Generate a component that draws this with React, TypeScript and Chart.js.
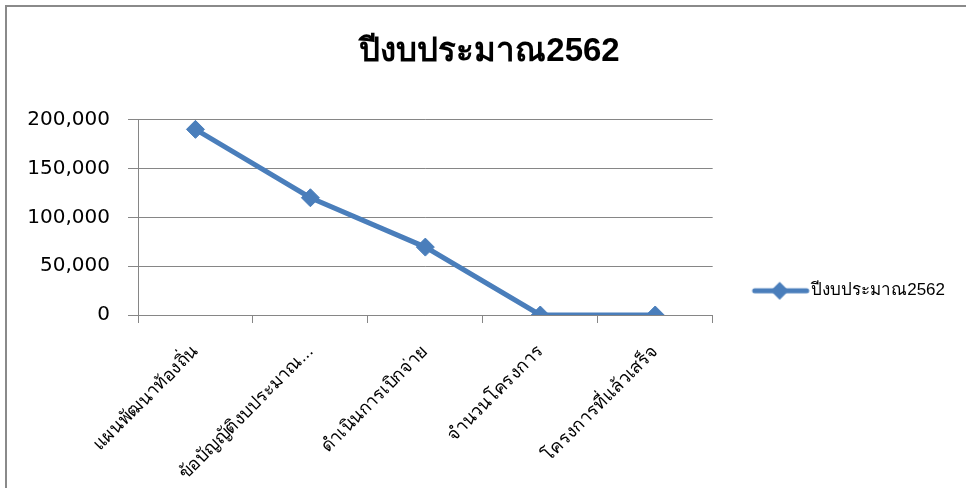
import React, { useEffect, useRef } from "react";
import { Chart, registerables } from "chart.js";

Chart.register(...registerables);

const categories = [
  "แผนพัฒนาท้องถิ่น",
  "ข้อบัญญัติงบประมาณ...",
  "ดำเนินการเบิกจ่าย",
  "จำนวนโครงการ",
  "โครงการที่แล้วเสร็จ",
];
const seriesName = "ปีงบประมาณ2562";
const seriesValues = [190000, 120000, 69500, 0, 0];
const chartTitle = "ปีงบประมาณ2562";
const yMin = 0;
const yMax = 200000;
const yStep = 50000;

const LINE_COLOR = "#4A7EBB";
const GRID_COLOR = "#868686";
const FONT = "'Liberation Sans', 'DejaVu Sans', sans-serif";

function makeLegendSymbol(): HTMLCanvasElement {
  const c = document.createElement("canvas");
  c.width = 110;
  c.height = 24;
  const ctx = c.getContext("2d")!;
  ctx.strokeStyle = LINE_COLOR;
  ctx.lineWidth = 5;
  ctx.lineCap = "round";
  ctx.beginPath();
  ctx.moveTo(52, 12);
  ctx.lineTo(104, 12);
  ctx.stroke();
  ctx.fillStyle = LINE_COLOR;
  ctx.beginPath();
  ctx.moveTo(77, 3);
  ctx.lineTo(86, 12);
  ctx.lineTo(77, 21);
  ctx.lineTo(68, 12);
  ctx.closePath();
  ctx.fill();
  return c;
}

const framePlugin = {
  id: "frame",
  beforeDraw(chart: any) {
    const ctx = chart.ctx;
    ctx.save();
    ctx.fillStyle = "#ffffff";
    ctx.fillRect(0, 0, chart.width, chart.height);
    ctx.fillStyle = "#8a8a8a";
    ctx.fillRect(5, 5, 2, chart.height - 5);
    ctx.fillRect(5, 5, chart.width - 5, 2);
    ctx.restore();
  },
};

// Centre the legend vertically over the plot plus the category label band
const legendPlacePlugin = {
  id: "legendPlace",
  afterLayout(chart: any) {
    const lg = chart.legend;
    if (!lg) return;
    const h = lg.bottom - lg.top;
    const mid = (chart.chartArea.top + 462) / 2;
    lg.top = mid - h / 2;
    lg.bottom = mid + h / 2;
  },
};

export default function App() {
  const ref = useRef<HTMLCanvasElement | null>(null);
  useEffect(() => {
    if (!ref.current) return;
    const symbol = makeLegendSymbol();
    const chart = new Chart(ref.current, {
      type: "line",
      data: {
        labels: categories,
        datasets: [
          {
            label: seriesName,
            data: seriesValues,
            borderColor: LINE_COLOR,
            backgroundColor: LINE_COLOR,
            borderWidth: 5,
            pointStyle: "rectRot",
            pointRadius: 9,
            pointHoverRadius: 9,
            pointBackgroundColor: LINE_COLOR,
            pointBorderColor: LINE_COLOR,
            pointBorderWidth: 1,
            tension: 0,
          },
        ],
      },
      options: {
        animation: false,
        responsive: false,
        maintainAspectRatio: false,
        layout: { padding: { left: 24, right: 11, top: 0, bottom: 0 } },
        plugins: {
          title: {
            display: true,
            text: chartTitle,
            color: "#000",
            font: { family: FONT, size: 33, weight: "bold", lineHeight: 1.2 },
            padding: { top: 32, bottom: 48 },
          },
          legend: {
            display: true,
            position: "right",
            maxWidth: 400,
            labels: {
              color: "#000",
              font: { family: FONT, size: 17 },
              padding: 0,
              usePointStyle: true,
              pointStyleWidth: 90,
              generateLabels: () => [
                {
                  text: seriesName,
                  pointStyle: symbol as any,
                  fillStyle: LINE_COLOR,
                  strokeStyle: LINE_COLOR,
                  lineWidth: 0,
                  hidden: false,
                  datasetIndex: 0,
                } as any,
              ],
            },
          },
          tooltip: { enabled: false },
        },
        scales: {
          x: {
            type: "category",
            offset: true,
            grid: {
              display: true,
              offset: true,
              drawOnChartArea: false,
              drawTicks: true,
              tickLength: 8,
              color: GRID_COLOR,
            },
            border: { display: true, color: GRID_COLOR, width: 1 },
            ticks: {
              color: "#000",
              font: { family: FONT, size: 18 },
              minRotation: 45,
              maxRotation: 45,
              autoSkip: false,
              padding: 18,
            },
            afterFit: (scale: any) => {
              scale.height = 173;
            },
          },
          y: {
            min: yMin,
            max: yMax,
            grid: {
              color: GRID_COLOR,
              tickLength: 10,
              drawTicks: true,
            },
            border: { display: true, color: GRID_COLOR, width: 1 },
            ticks: {
              stepSize: yStep,
              color: "#000",
              font: { family: "'DejaVu Sans', sans-serif", size: 20 },
              padding: 18,
              callback: (v: any) => Number(v).toLocaleString("en-US"),
            },
            afterFit: (scale: any) => {
              scale.width = 114;
            },
          },
        },
      },
      plugins: [framePlugin, legendPlacePlugin],
    });
    return () => chart.destroy();
  }, []);
  return (
    <div style={{ position: "fixed", left: 0, top: 0, width: 966, height: 488 }}>
      <canvas ref={ref} width={966} height={488} style={{ display: "block" }} />
    </div>
  );
}
